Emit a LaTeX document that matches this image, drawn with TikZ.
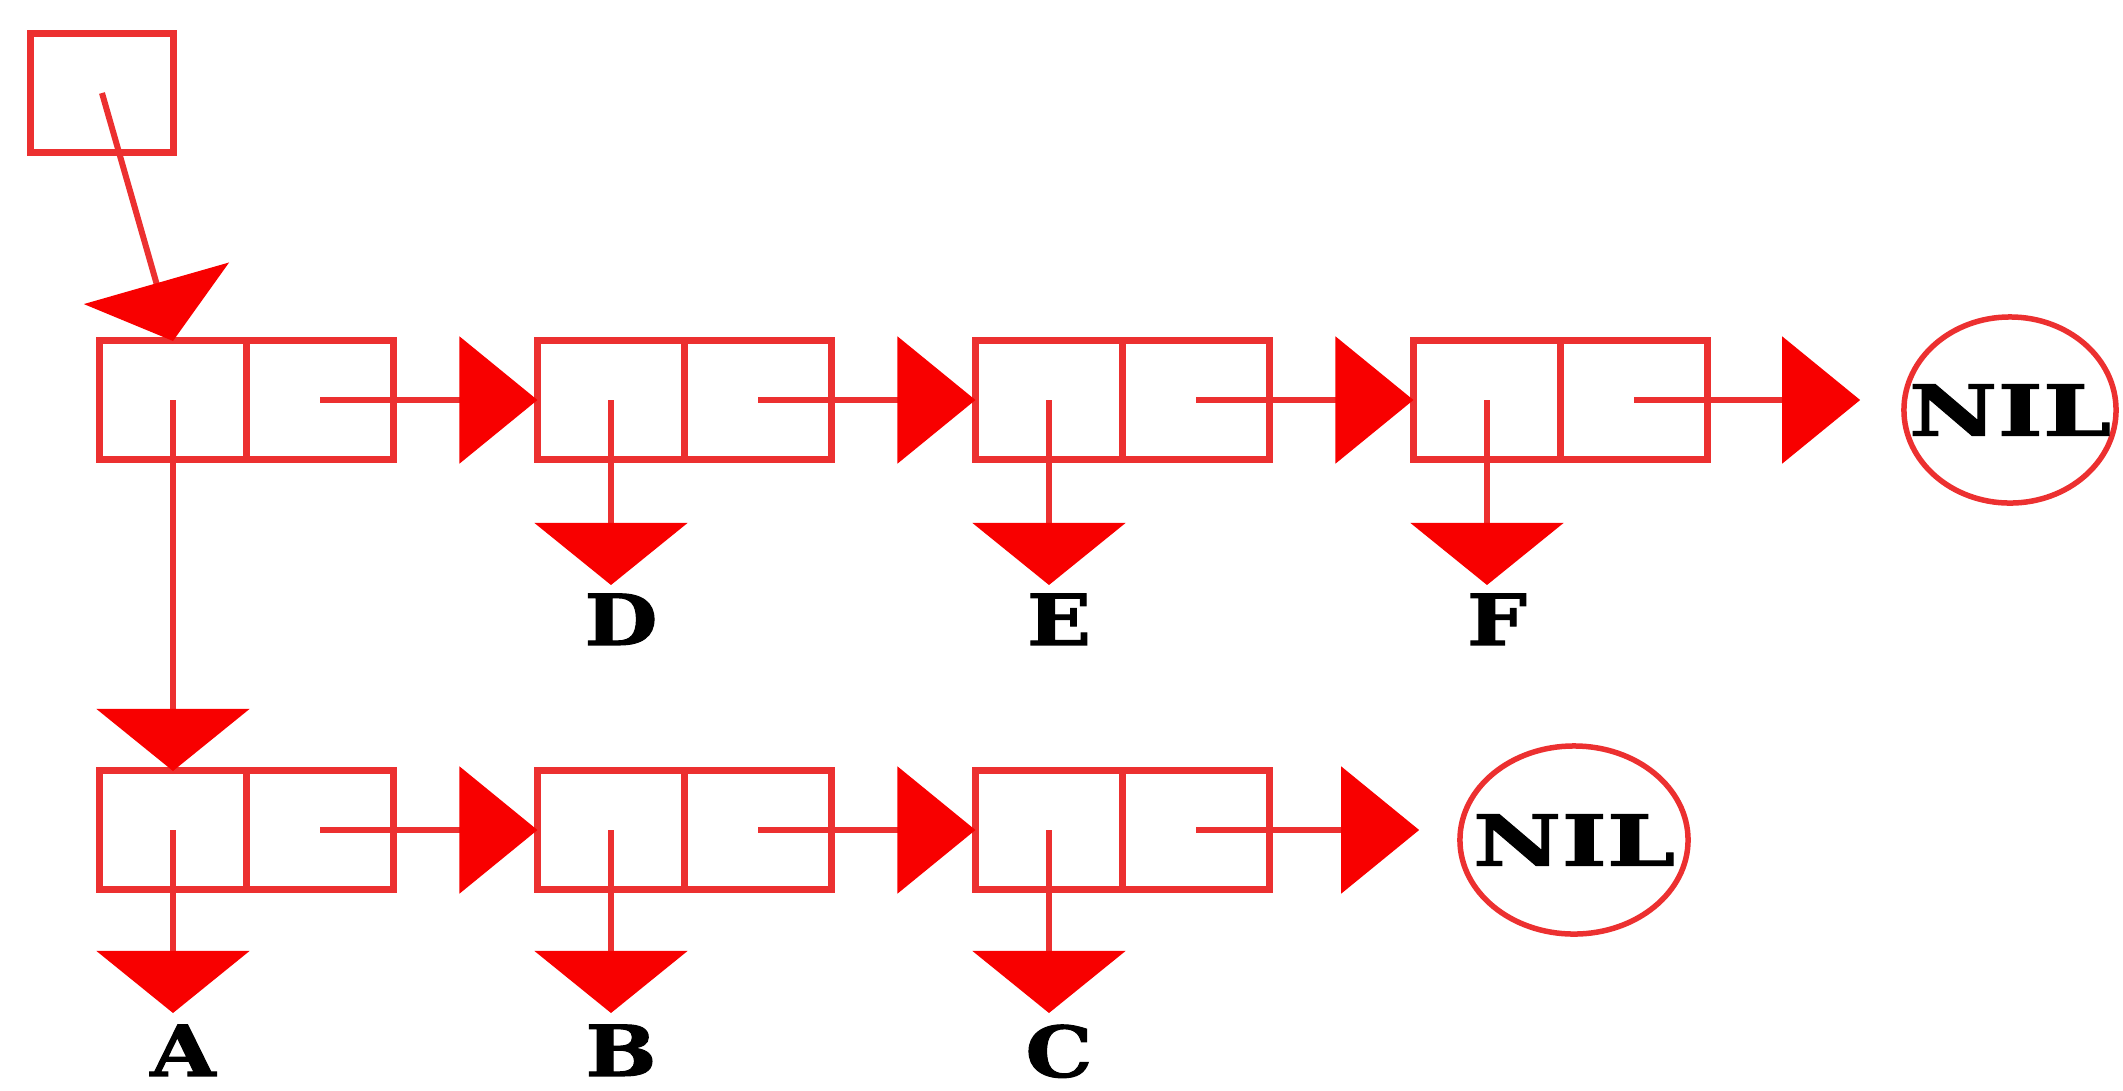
\documentclass[tikz,border=0pt]{standalone}
\usepackage{fontspec}
\usetikzlibrary{arrows.meta,shapes.geometric}
\newfontfamily\labfont[FakeStretch=1.2,FakeBold=1.5]{DejaVu Serif}
\newfontfamily\nilfont[FakeStretch=1.38,FakeBold=1.5]{DejaVu Serif}
\definecolor{boxred}{RGB}{236,48,48}
\definecolor{tipred}{RGB}{248,0,0}
\tikzset{
  cell/.style={draw=boxred,line width=0.07cm,minimum width=1.47cm,minimum height=1.18cm,inner sep=0pt,outer sep=0pt},
  link/.style={draw=boxred,line width=0.06cm},
  rarrow/.style={link,-{Triangle[length=0.78cm,width=1.26cm,color=tipred]}},
  darrow/.style={link,-{Triangle[length=0.62cm,width=1.52cm,color=tipred]}},
  harrow/.style={link,-{Triangle[length=0.6cm,width=1.5cm,color=tipred]}},
  nilnode/.style={ellipse,draw=boxred,line width=0.055cm,inner sep=0pt},
  niltext/.style={inner sep=0pt,font={\nilfont\bfseries\fontsize{20}{24}\selectfont}},
  lab/.style={inner sep=0pt,anchor=north,font={\labfont\bfseries\fontsize{20}{24}\selectfont}}
}
\begin{document}
\begin{tikzpicture}[x=0.01cm,y=-0.01cm]
\useasboundingbox (0,0) rectangle (2123,1090);
% head pointer box
\node[cell,minimum width=1.42cm,minimum height=1.18cm] (head) at (102,93) {};
% row 1 cells
\node[cell] (a1) at (173,400) {};  \node[cell] (b1) at (320,400) {};
\node[cell] (a2) at (611,400) {};  \node[cell] (b2) at (758,400) {};
\node[cell] (a3) at (1049,400) {}; \node[cell] (b3) at (1196,400) {};
\node[cell] (a4) at (1487,400) {}; \node[cell] (b4) at (1634,400) {};
% row 2 cells
\node[cell] (a5) at (173,830) {};  \node[cell] (b5) at (320,830) {};
\node[cell] (a6) at (611,830) {};  \node[cell] (b6) at (758,830) {};
\node[cell] (a7) at (1049,830) {}; \node[cell] (b7) at (1196,830) {};
% NIL ends
\node[nilnode,minimum width=2.12cm,minimum height=1.86cm,label={[niltext]center:NIL}] (nil1) at (2010,410) {};
\node[nilnode,minimum width=2.28cm,minimum height=1.88cm,label={[niltext]center:NIL}] (nil2) at (1574,840) {};
% atom labels
\node[lab] (lD) at (621,593) {D};
\node[lab] (lE) at (1059,593) {E};
\node[lab] (lF) at (1497,593) {F};
\node[lab] (lA) at (183,1024) {A};
\node[lab] (lB) at (621,1024) {B};
\node[lab] (lC) at (1059,1024) {C};
% head pointer
\draw[harrow] (head.center) -- (a1.north);
% cdr links row 1
\draw[rarrow] (b1.center) -- (a2.west);
\draw[rarrow] (b2.center) -- (a3.west);
\draw[rarrow] (b3.center) -- (a4.west);
\draw[rarrow,shorten >=0.41cm] (b4.center) -- (b4.center -| nil1.west);
% cdr links row 2
\draw[rarrow] (b5.center) -- (a6.west);
\draw[rarrow] (b6.center) -- (a7.west);
\draw[rarrow,shorten >=0.38cm] (b7.center) -- (b7.center -| nil2.west);
% car links
\draw[darrow] (a1.center) -- (a5.north);
\draw[darrow,shorten >=0.08cm] (a2.center) -- (a2.center |- lD.north);
\draw[darrow,shorten >=0.08cm] (a3.center) -- (a3.center |- lE.north);
\draw[darrow,shorten >=0.08cm] (a4.center) -- (a4.center |- lF.north);
\draw[darrow,shorten >=0.11cm] (a5.center) -- (a5.center |- lA.north);
\draw[darrow,shorten >=0.11cm] (a6.center) -- (a6.center |- lB.north);
\draw[darrow,shorten >=0.11cm] (a7.center) -- (a7.center |- lC.north);
\end{tikzpicture}
\end{document}
